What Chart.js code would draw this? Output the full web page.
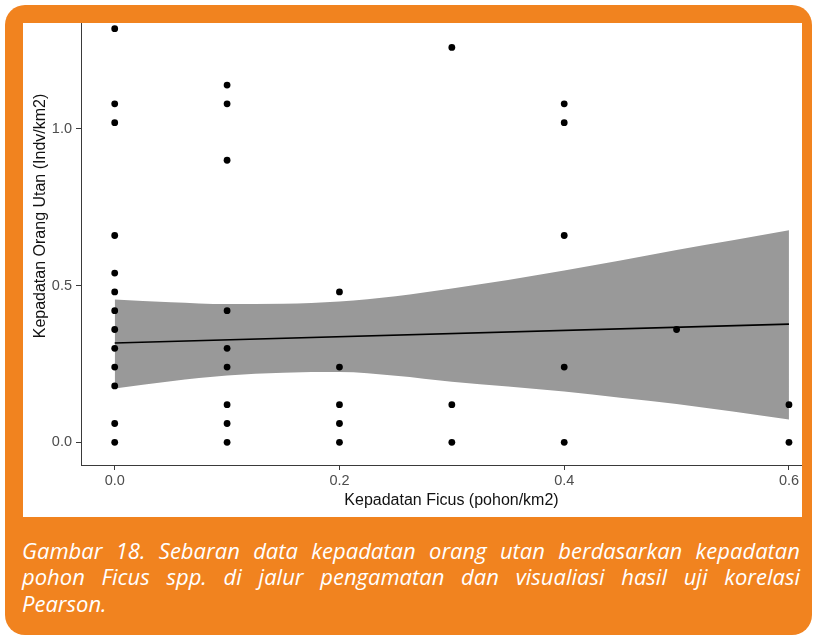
<!DOCTYPE html>
<html>
<head>
<meta charset="utf-8">
<script src="https://cdn.jsdelivr.net/npm/chart.js@4/dist/chart.umd.min.js"></script>
<style>
  html, body { margin: 0; padding: 0; background: #ffffff; }
  body { width: 813px; height: 636px; position: relative; overflow: hidden; }
  #frame { position: absolute; left: 5px; top: 5px; width: 807px; height: 630px; background: #F1831F; border-radius: 20px; }
  #panel { position: absolute; left: 23px; top: 23px; width: 779px; height: 494px; background: #ffffff; }
  #chart { display: block; }
  #caption { position: absolute; left: 22px; top: 536.5px; width: 778px; color: #ffffff;
    font-family: "Open Sans", sans-serif; font-style: italic; font-size: 22px; line-height: 26.7px; }
  #caption .j { text-align: justify; text-align-last: justify; }
</style>
</head>
<body>
<div id="frame"></div>
<div id="panel"><canvas id="chart" width="779" height="494"></canvas></div>
<div id="caption">
  <div class="j">Gambar 18. Sebaran data kepadatan orang utan berdasarkan kepadatan</div>
  <div class="j">pohon Ficus spp. di jalur pengamatan dan visualiasi hasil uji korelasi</div>
  <div>Pearson.</div>
</div>
<script>
// Observed points: Ficus density (x) and orangutan density (y)
const ficusDensity = [
  0, 0, 0, 0, 0, 0, 0, 0, 0, 0, 0, 0, 0,
  0.1, 0.1, 0.1, 0.1, 0.1, 0.1, 0.1, 0.1, 0.1,
  0.2, 0.2, 0.2, 0.2, 0.2,
  0.3, 0.3, 0.3,
  0.4, 0.4, 0.4, 0.4, 0.4,
  0.5,
  0.6, 0.6
];
const orangutanDensity = [
  1.32, 1.08, 1.02, 0.66, 0.54, 0.48, 0.42, 0.36, 0.30, 0.24, 0.18, 0.06, 0,
  1.14, 1.08, 0.90, 0.42, 0.30, 0.24, 0.12, 0.06, 0,
  0.48, 0.24, 0.12, 0.06, 0,
  1.26, 0.12, 0,
  1.08, 1.02, 0.66, 0.24, 0,
  0.36,
  0.12, 0
];
// Linear fit line
const fitX = [0, 0.6];
const fitY = [0.317, 0.377];
// Confidence band
const bandX     = [0, 0.05, 0.1, 0.15, 0.2, 0.25, 0.3, 0.35, 0.4, 0.45, 0.5, 0.55, 0.6];
const bandUpper = [0.456, 0.447, 0.441, 0.442, 0.449, 0.466, 0.491, 0.518, 0.548, 0.580, 0.614, 0.645, 0.677];
const bandLower = [0.172, 0.195, 0.213, 0.222, 0.224, 0.212, 0.193, 0.178, 0.162, 0.142, 0.122, 0.098, 0.073];
// Tick labels
const xTicks = [0, 0.2, 0.4, 0.6];
const yTicks = [0, 0.5, 1.0];
const xTitle = "Kepadatan Ficus (pohon/km2)";
const yTitle = "Kepadatan Orang Utan (Indv/km2)";

const pts = ficusDensity.map((x, i) => ({ x: x, y: orangutanDensity[i] }));
const fit = fitX.map((x, i) => ({ x: x, y: fitY[i] }));
const up = bandX.map((x, i) => ({ x: x, y: bandUpper[i] }));
const lo = bandX.map((x, i) => ({ x: x, y: bandLower[i] }));

const tickFont = { family: "'Liberation Sans', Arial, sans-serif", size: 14.5 };
const axisColor = '#3a3a3a';

const titlesPlugin = {
  id: 'titles',
  afterDraw(chart) {
    const ctx = chart.ctx;
    ctx.save();
    ctx.fillStyle = '#111111';
    ctx.font = "16px 'Liberation Sans', Arial, sans-serif";
    ctx.textAlign = 'center';
    ctx.textBaseline = 'middle';
    ctx.fillText(xTitle, 428.5, 477.5);
    ctx.translate(17.5, 193);
    ctx.rotate(-Math.PI / 2);
    ctx.fillText(yTitle, 0, 0);
    ctx.restore();
  }
};

new Chart(document.getElementById('chart'), {
  type: 'scatter',
  data: {
    datasets: [
      { data: up, showLine: true, borderWidth: 0, pointRadius: 0, fill: '+1',
        backgroundColor: '#999999', borderColor: 'rgba(0,0,0,0)', cubicInterpolationMode: 'monotone', order: 3 },
      { data: lo, showLine: true, borderWidth: 0, pointRadius: 0, fill: false,
        backgroundColor: '#999999', borderColor: 'rgba(0,0,0,0)', cubicInterpolationMode: 'monotone', order: 4 },
      { data: fit, showLine: true, borderWidth: 1.6, borderColor: '#000000', pointRadius: 0, order: 2 },
      { data: pts, pointRadius: 3.4, pointBackgroundColor: '#000000', pointBorderWidth: 0, order: 1 }
    ]
  },
  options: {
    responsive: false,
    animation: false,
    devicePixelRatio: 1,
    layout: { padding: 0, autoPadding: false },
    plugins: { legend: { display: false }, tooltip: { enabled: false } },
    scales: {
      x: {
        type: 'linear', min: -0.03, max: 0.6116,
        afterBuildTicks: s => { s.ticks = xTicks.map(v => ({ value: v })); },
        afterFit: s => { s.height = 52; s.paddingLeft = 0; s.paddingRight = 0; },
        ticks: { callback: v => Number(v).toFixed(1), color: '#4d4d4d', font: tickFont, padding: 2, maxRotation: 0, autoSkip: false },
        grid: { display: true, drawOnChartArea: false, drawTicks: true, tickLength: 5, color: axisColor, lineWidth: 1 },
        border: { display: true, color: axisColor, width: 1 }
      },
      y: {
        type: 'linear', min: -0.0724, max: 1.338,
        afterBuildTicks: s => { s.ticks = yTicks.map(v => ({ value: v })); },
        afterFit: s => { s.width = 58; s.paddingTop = 0; s.paddingBottom = 0; },
        ticks: { callback: v => Number(v).toFixed(1), color: '#4d4d4d', font: tickFont, padding: 4 },
        grid: { display: true, drawOnChartArea: false, drawTicks: true, tickLength: 5, color: axisColor, lineWidth: 1 },
        border: { display: true, color: axisColor, width: 1 }
      }
    }
  },
  plugins: [titlesPlugin]
});
</script>
</body>
</html>
